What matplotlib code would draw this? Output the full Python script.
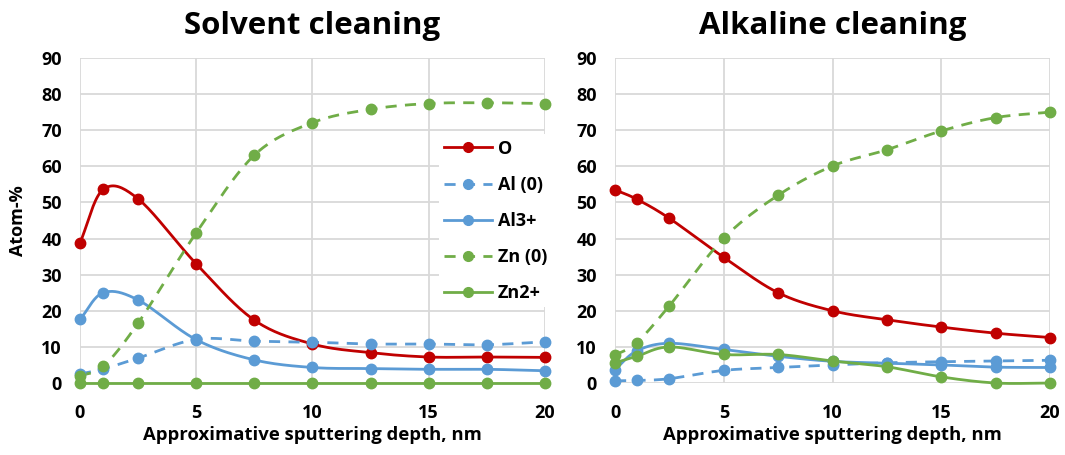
import numpy as np
import matplotlib
matplotlib.use("Agg")
import matplotlib.pyplot as plt

plt.rcParams['font.family'] = ['Open Sans', 'DejaVu Sans']
plt.rcParams['font.weight'] = 'bold'

# depth, nm
depth = [0, 1, 2.5, 5, 7.5, 10, 12.5, 15, 17.5, 20]

# Solvent cleaning (atom-%)
solv_O = [38.8, 53.6, 51.0, 33.0, 17.4, 10.8, 8.4, 7.2, 7.2, 7.1]
solv_Al0 = [2.5, 3.9, 6.9, 12.1, 11.6, 11.3, 10.8, 10.8, 10.6, 11.4]
solv_Al3 = [17.6, 25.0, 23.0, 12.0, 6.4, 4.3, 4.0, 3.8, 3.8, 3.4]
solv_Zn0 = [2.0, 4.6, 16.6, 41.6, 63.1, 72.1, 75.8, 77.4, 77.6, 77.4]
solv_Zn2 = [0, 0, 0, 0, 0, 0, 0, 0, 0, 0]

# Alkaline cleaning (atom-%)
alk_O = [53.5, 50.9, 45.6, 34.8, 25.0, 20.0, 17.5, 15.5, 13.8, 12.6]
alk_Al0 = [0.6, 0.7, 1.2, 3.5, 4.3, 5.0, 5.6, 5.9, 6.1, 6.3]
alk_Al3 = [3.7, 8.9, 11.0, 9.3, 7.4, 6.0, 5.5, 5.0, 4.4, 4.3]
alk_Zn0 = [7.7, 11.2, 21.4, 40.1, 52.0, 60.1, 64.6, 69.8, 73.5, 75.0]
alk_Zn2 = [5.6, 7.4, 10.0, 7.9, 7.9, 6.1, 4.5, 1.7, 0, 0]

labels = ["O", "Al (0)", "Al3+", "Zn (0)", "Zn2+"]
colors = ["#C00000", "#5B9BD5", "#5B9BD5", "#70AD47", "#70AD47"]
styles = ["-", (0, (4, 3)), "-", (0, (4, 3)), "-"]


def smooth(x, y, n=20):
    # Catmull-Rom like Excel's smoothed line
    x = np.asarray(x, float)
    y = np.asarray(y, float)
    px = np.concatenate([[2 * x[0] - x[1]], x, [2 * x[-1] - x[-2]]])
    py = np.concatenate([[2 * y[0] - y[1]], y, [2 * y[-1] - y[-2]]])
    xs, ys = [], []
    t = np.linspace(0, 1, n, endpoint=False)
    for i in range(1, len(px) - 2):
        p0, p1, p2, p3 = px[i - 1:i + 3]
        q0, q1, q2, q3 = py[i - 1:i + 3]
        m1x, m2x = (p2 - p0) / 6, (p3 - p1) / 6
        m1y, m2y = (q2 - q0) / 6, (q3 - q1) / 6
        b0 = (1 - t) ** 3
        b1 = 3 * t * (1 - t) ** 2
        b2 = 3 * t ** 2 * (1 - t)
        b3 = t ** 3
        xs.append(b0 * p1 + b1 * (p1 + m1x) + b2 * (p2 - m2x) + b3 * p2)
        ys.append(b0 * q1 + b1 * (q1 + m1y) + b2 * (q2 - m2y) + b3 * q2)
    xs.append([x[-1]])
    ys.append([y[-1]])
    return np.concatenate(xs), np.concatenate(ys)


fig = plt.figure(figsize=(10.65, 4.55), dpi=100)
ax1 = fig.add_axes([0.0751, 0.1582, 0.4366, 0.7143])
ax2 = fig.add_axes([0.5775, 0.1582, 0.4084, 0.7143])

panels = [
    (ax1, "Solvent cleaning", [solv_O, solv_Al0, solv_Al3, solv_Zn0, solv_Zn2]),
    (ax2, "Alkaline cleaning", [alk_O, alk_Al0, alk_Al3, alk_Zn0, alk_Zn2]),
]

leg_handles = []
for ax, title, series in panels:
    for vals, lab, c, ls in zip(series, labels, colors, styles):
        sx, sy = smooth(depth, vals)
        ax.plot(sx, sy, color=c, lw=2, ls=ls, clip_on=False, zorder=3)
        ax.plot(depth, vals, 'o', color=c, ms=7.5, clip_on=False, zorder=4)
        if ax is ax1:
            h, = ax.plot([], [], color=c, lw=2, ls=ls, marker='o', ms=7)
            leg_handles.append(h)
    ax.set_xlim(0, 20)
    ax.set_ylim(0, 90)
    ax.set_xticks(range(0, 21, 5))
    ax.set_yticks(range(0, 91, 10))
    ax.grid(True, color="#D9D9D9", lw=1.3)
    ax.set_axisbelow(True)
    for s in ax.spines.values():
        s.set_visible(False)
    ax.tick_params(axis='x', length=0, labelsize=13, pad=15)
    ax.tick_params(axis='y', length=0, labelsize=13, pad=13)
    ax.set_xlabel("Approximative sputtering depth, nm", fontsize=13.3,
                  fontweight='bold', labelpad=3)
    ax.set_title(title, fontsize=22.5, fontweight='bold', pad=17)

ax1.set_ylabel("Atom-%", fontsize=13, fontweight='bold', labelpad=10)

leg = ax1.legend(leg_handles, labels, loc='upper left',
                 bbox_to_anchor=(0.772, 0.765),
                 frameon=True, fontsize=13, handlelength=2.65, labelspacing=1.0,
                 borderpad=0.3, handletextpad=0.3, borderaxespad=0)
leg.get_frame().set_edgecolor('none')
leg.get_frame().set_facecolor('white')
leg.get_frame().set_alpha(1)
leg.get_frame().set_boxstyle('square', pad=0)

fig.savefig("out.png", dpi=100, facecolor='white')
